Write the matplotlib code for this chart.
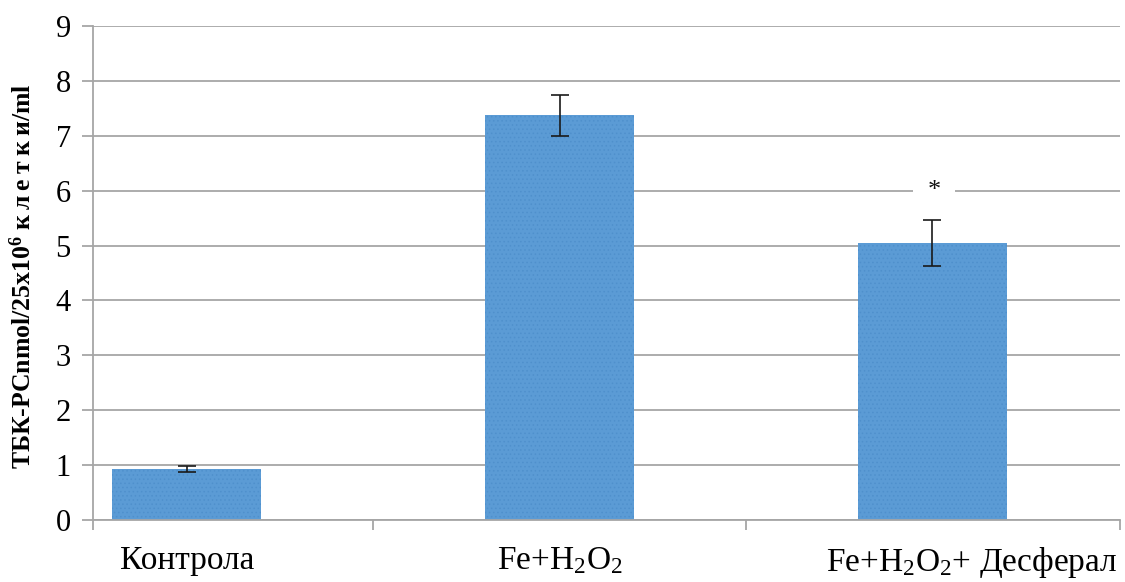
import matplotlib
matplotlib.use("Agg")
import matplotlib.pyplot as plt
import numpy as np

categories = ["Контрола", r"Fe+H$_2$O$_2$", r"Fe+H$_2$O$_2$+ Десферал"]
values = [0.93, 7.37, 5.04]
errors = [0.05, 0.37, 0.42]
y_ticks = [0, 1, 2, 3, 4, 5, 6, 7, 8, 9]
y_label = "ТБК-РСnmol/25x10$^{\\mathbf{6}}$ к\u2009л\u2009е\u2009т\u2009к\u2009и/ml"
marker_text = "*"
marker_index = 2
marker_y = 6.0
# horizontal nudge (in category units) of each category caption
label_shift = [0.0, 0.0, 0.107]

plt.rcParams["font.family"] = ["Liberation Serif", "DejaVu Serif"]
plt.rcParams["mathtext.fontset"] = "custom"
plt.rcParams["mathtext.rm"] = "Liberation Serif"
plt.rcParams["mathtext.it"] = "Liberation Serif:italic"
plt.rcParams["mathtext.bf"] = "Liberation Serif:bold"
plt.rcParams["mathtext.default"] = "rm"
plt.rcParams["hatch.linewidth"] = 0.6

fig = plt.figure(figsize=(11.25, 5.82), dpi=100)
ax = fig.add_axes([93 / 1125, 62 / 582, (1120 - 93) / 1125, (520 - 26) / 582])

x = np.arange(len(categories))
grid_color = "#a6a6a6"

ax.bar(x, values, width=0.40, color="#5b9bd5", edgecolor="#4f90cc",
       linewidth=0, hatch="....", zorder=2)
ax.errorbar(x, values, yerr=errors, fmt="none", ecolor="#1a1a1a",
            elinewidth=1.2, capsize=6.5, capthick=1.2, zorder=3)

ax.text(x[marker_index] + 0.005, marker_y, marker_text, ha="center", va="center",
        fontsize=19, color="#111111", zorder=4,
        bbox=dict(facecolor="white", edgecolor="none",
                  boxstyle="square,pad=0.55"))

ax.set_xlim(-0.252, 2.504)
ax.set_ylim(0, 9)
ax.set_yticks(y_ticks)
ax.set_yticklabels([str(t) for t in y_ticks], fontsize=22)
ax.yaxis.grid(True, color=grid_color, linewidth=1.3, zorder=0)
ax.set_axisbelow(True)

# category captions drawn as annotations below the axis
ax.set_xticks(x)
ax.set_xticklabels([])
ax.tick_params(axis="x", length=0)
for xi, name, dx in zip(x, categories, label_shift):
    ax.annotate(name, xy=(xi + dx, 0), xycoords=ax.get_xaxis_transform(),
                xytext=(0, -18), textcoords="offset points",
                ha="center", va="top", fontsize=24, annotation_clip=False)

ax.set_xticks([-0.252, 0.5, 1.5, 2.504], minor=True)
ax.tick_params(axis="x", which="minor", length=7.5, color=grid_color, width=1.3)
ax.tick_params(axis="y", length=8, color=grid_color, width=1.3, pad=8)

for side in ["top", "right"]:
    ax.spines[side].set_visible(False)
for side in ["left", "bottom"]:
    ax.spines[side].set_color(grid_color)
    ax.spines[side].set_linewidth(1.3)

ax.set_ylabel(y_label, fontsize=18.5, fontweight="bold")
ax.yaxis.set_label_coords(-0.056, 0.493)

fig.savefig("out.png", dpi=100)
